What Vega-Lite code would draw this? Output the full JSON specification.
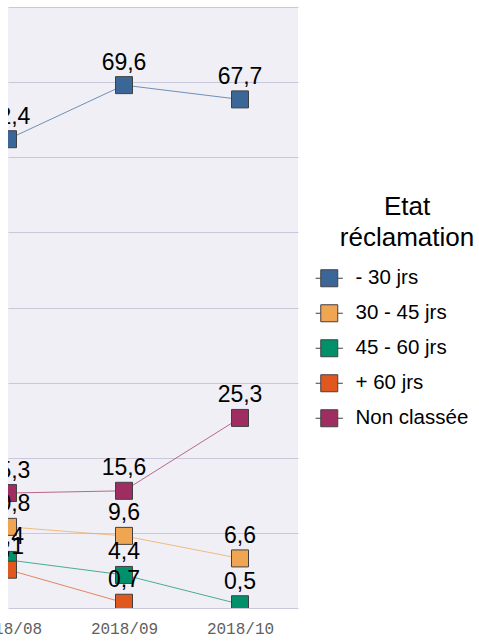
{
  "$schema": "https://vega.github.io/schema/vega-lite/v6.json",
  "width": 290,
  "height": 601,
  "autosize": {"type": "none"},
  "padding": {"left": 8, "top": 7, "right": 181, "bottom": 34},
  "background": "white",
  "config": {
    "locale": {"number": {"decimal": ",", "thousands": "\u00a0", "grouping": [3], "currency": ["", "\u00a0€"]}},
    "view": {"fill": "#EFEFF5", "stroke": null},
    "font": "Liberation Sans"
  },
  "data": {
    "values": [
      {"mois": "2018/08", "etat": "- 30 jrs", "val": 62.4},
      {"mois": "2018/09", "etat": "- 30 jrs", "val": 69.6},
      {"mois": "2018/10", "etat": "- 30 jrs", "val": 67.7},
      {"mois": "2018/08", "etat": "30 - 45 jrs", "val": 10.8},
      {"mois": "2018/09", "etat": "30 - 45 jrs", "val": 9.6},
      {"mois": "2018/10", "etat": "30 - 45 jrs", "val": 6.6},
      {"mois": "2018/08", "etat": "45 - 60 jrs", "val": 6.4},
      {"mois": "2018/09", "etat": "45 - 60 jrs", "val": 4.4},
      {"mois": "2018/10", "etat": "45 - 60 jrs", "val": 0.5},
      {"mois": "2018/08", "etat": "+ 60 jrs", "val": 5.1},
      {"mois": "2018/09", "etat": "+ 60 jrs", "val": 0.7},
      {"mois": "2018/08", "etat": "Non classée", "val": 15.3},
      {"mois": "2018/09", "etat": "Non classée", "val": 15.6},
      {"mois": "2018/10", "etat": "Non classée", "val": 25.3}
    ]
  },
  "encoding": {
    "x": {
      "field": "mois",
      "type": "ordinal",
      "scale": {"type": "point", "domain": ["2018/08", "2018/09", "2018/10"], "padding": 0.25, "align": 0},
      "axis": {
        "title": null,
        "labelAngle": 0,
        "labelFont": "Liberation Mono",
        "labelFontSize": 16,
        "labelColor": "#606060",
        "labelPadding": 12,
        "domain": false,
        "ticks": false,
        "tickSize": 0,
        "grid": false
      }
    },
    "y": {
      "field": "val",
      "type": "quantitative",
      "scale": {"domain": [0, 80], "nice": false, "zero": true},
      "axis": {
        "title": null,
        "labels": false,
        "ticks": false,
        "domain": false,
        "grid": true,
        "gridColor": "#C8C8DA",
        "gridWidth": 1,
        "values": [0, 10, 20, 30, 40, 50, 60, 70, 80]
      }
    }
  },
  "layer": [
    {
      "mark": {"type": "line", "clip": true, "strokeWidth": 1, "strokeOpacity": 0.7},
      "encoding": {
        "detail": {"field": "etat"},
        "stroke": {
          "field": "etat",
          "type": "nominal",
          "scale": {
            "domain": ["Non classée", "+ 60 jrs", "45 - 60 jrs", "30 - 45 jrs", "- 30 jrs"],
            "range": ["#A02D62", "#E0581F", "#00906A", "#F0A552", "#3B6698"]
          },
          "legend": null
        }
      }
    },
    {
      "mark": {"type": "point", "shape": "square", "filled": true, "size": 289, "opacity": 1, "stroke": "#404040", "strokeWidth": 1, "clip": true},
      "encoding": {
        "fill": {
          "field": "etat",
          "type": "nominal",
          "scale": {
            "domain": ["- 30 jrs", "30 - 45 jrs", "45 - 60 jrs", "+ 60 jrs", "Non classée"],
            "range": ["#3B6698", "#F0A552", "#00906A", "#E0581F", "#A02D62"]
          },
          "legend": {
            "title": ["Etat", "réclamation"],
            "orient": "none",
            "legendX": 311,
            "legendY": 187,
            "padding": 0,
            "titleFont": "Liberation Sans",
            "titleFontSize": 26,
            "titleFontWeight": "normal",
            "titleColor": "#000000",
            "titleLineHeight": 31,
            "titleAlign": "center",
            "titleAnchor": "middle",
            "titlePadding": 17,
            "labelFont": "Liberation Sans",
            "labelFontSize": 20.5,
            "labelColor": "#000000",
            "labelOffset": 16,
            "symbolType": "M-1.6,0H-1M1,0H1.6M-1,-1H1V1H-1Z",
            "symbolSize": 289,
            "symbolStrokeColor": "#404040",
            "symbolStrokeWidth": 1,
            "symbolOpacity": 1,
            "rowPadding": 13,
            "encode": {"title": {"update": {"dx": {"value": 13}}}}
          }
        }
      }
    },
    {
      "mark": {"type": "text", "clip": true, "fontSize": 23, "font": "Liberation Sans", "color": "#000000", "baseline": "alphabetic", "dy": -15.5},
      "encoding": {
        "text": {"field": "val", "type": "quantitative", "format": ".1f"}
      }
    }
  ]
}
